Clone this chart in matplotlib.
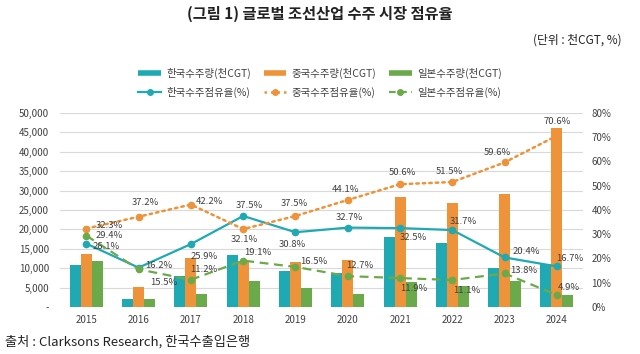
import matplotlib
matplotlib.use("Agg")
import matplotlib.pyplot as plt
import numpy as np
from matplotlib.lines import Line2D
from matplotlib.ticker import FuncFormatter, MultipleLocator

plt.rcParams['font.family'] = ['Noto Sans CJK KR', 'DejaVu Sans']

years = ['2015', '2016', '2017', '2018', '2019', '2020', '2021', '2022', '2023', '2024']
korea_vol = [10700, 2000, 7900, 13400, 9350, 8700, 18100, 16600, 10000, 11000]
china_vol = [13600, 5200, 12700, 11700, 11700, 12100, 28400, 26900, 29100, 46100]
japan_vol = [11900, 2100, 3400, 6700, 4800, 3400, 6500, 5500, 6600, 3100]
korea_share = [26.1, 16.2, 25.9, 37.5, 30.8, 32.7, 32.5, 31.7, 20.4, 16.7]
china_share = [32.3, 37.2, 42.2, 32.1, 37.5, 44.1, 50.6, 51.5, 59.6, 70.6]
japan_share = [29.4, 15.5, 11.2, 19.1, 16.5, 12.7, 11.9, 11.1, 13.8, 4.9]

bar_names = ['한국수주량(천CGT)', '중국수주량(천CGT)', '일본수주량(천CGT)']
line_names = ['한국수주점유율(%)', '중국수주점유율(%)', '일본수주점유율(%)']

TEAL = '#1FAAB3'
ORANGE = '#EE9339'
GREEN = '#6BAA4B'
TXT = '#404040'

# label offsets in pixels (dx, dy) for each series
korea_off = [(20, -3), (20, 2), (13, -12), (6, 10), (-3, -12), (2, 10), (13, -9), (11, 9), (22, 6), (13, 8)]
china_off = [(23, 3), (7, 14), (19, 3), (1, -10), (-1, 12), (-2, 10), (2, 12), (-3, 11), (-7, 10), (0, 14)]
japan_off = [(23, 0), (25, -13), (13, 10), (15, 8), (18, 5), (12, 11), (14, -10), (14, -10), (19, 3), (12, 8)]

fig = plt.figure(figsize=(6.4, 3.54), dpi=100)
ax = fig.add_axes([0.094, 0.133, 0.817, 0.548])
ax2 = ax.twinx()

x = np.arange(len(years))
w = 0.21
ax.bar(x - w, korea_vol, w, color=TEAL, zorder=2)
ax.bar(x, china_vol, w, color=ORANGE, zorder=2)
ax.bar(x + w, japan_vol, w, color=GREEN, zorder=2)

ax.set_ylim(0, 50000)
ax.yaxis.set_major_locator(MultipleLocator(5000))
ax.yaxis.set_major_formatter(FuncFormatter(lambda v, p: '-' if v == 0 else f'{int(v):,}'))
ax.set_xlim(-0.5, len(years) - 0.5)
ax.set_xticks(x)
ax.set_xticklabels(years)
ax.grid(axis='y', color='#d9d9d9', linewidth=0.8, zorder=0)
ax.set_axisbelow(True)

ax2.set_ylim(0, 80)
ax2.yaxis.set_major_locator(MultipleLocator(10))
ax2.yaxis.set_major_formatter(FuncFormatter(lambda v, p: f'{int(v)}%'))

for a in (ax, ax2):
    for s in a.spines.values():
        s.set_visible(False)
    a.tick_params(length=0, labelsize=7, labelcolor=TXT)
ax.tick_params(axis='y', pad=8)
ax.tick_params(axis='x', pad=6)
ax2.tick_params(axis='y', pad=6)

ax2.plot(x, korea_share, color=TEAL, lw=1.6, marker='o', ms=4.5, zorder=3)
ax2.plot(x, china_share, color=ORANGE, lw=1.8, ls=(0, (1, 1.6)), marker='o', ms=4.5,
         dash_capstyle='round', zorder=3)
ax2.plot(x, japan_share, color=GREEN, lw=1.6, ls=(0, (4, 2.5)), marker='o', ms=4.5, zorder=3)

for vals, offs in ((korea_share, korea_off), (china_share, china_off), (japan_share, japan_off)):
    for i, (v, o) in enumerate(zip(vals, offs)):
        ax2.annotate(f'{v}%', (x[i], v), xytext=o, textcoords='offset pixels',
                     ha='center', va='center', fontsize=6.8, color=TXT, zorder=4)

bar_h = [Line2D([], [], color=c, lw=4, solid_capstyle='butt') for c in (TEAL, ORANGE, GREEN)]
line_h = [
    Line2D([], [], color=TEAL, lw=1.6, marker='o', ms=4),
    Line2D([], [], color=ORANGE, lw=1.8, ls=(0, (1, 1.6)), marker='o', ms=4),
    Line2D([], [], color=GREEN, lw=1.6, ls=(0, (3, 2)), marker='o', ms=4),
]
handles, labels = [], []
for i in range(3):
    handles += [bar_h[i], line_h[i]]
    labels += [bar_names[i], line_names[i]]
fig.legend(handles, labels, ncol=3, loc='center', bbox_to_anchor=(0.5, 0.767),
           frameon=False, fontsize=7.5, handlelength=2.2, columnspacing=1.2,
           handletextpad=0.5, labelspacing=0.75, labelcolor=TXT)

fig.text(0.5, 0.962, '(그림 1) 글로벌 조선산업 수주 시장 점유율', ha='center', va='center',
         fontsize=11, fontweight='bold', color='#222222')
fig.text(0.972, 0.887, '(단위 : 천CGT, %)', ha='right', va='center', fontsize=8.5, color='#222222')
fig.text(0.008, 0.034, '출처 : Clarksons Research, 한국수출입은행', ha='left', va='center',
         fontsize=9.5, fontweight='medium', color='#222222')

fig.savefig('out.png', dpi=100)
